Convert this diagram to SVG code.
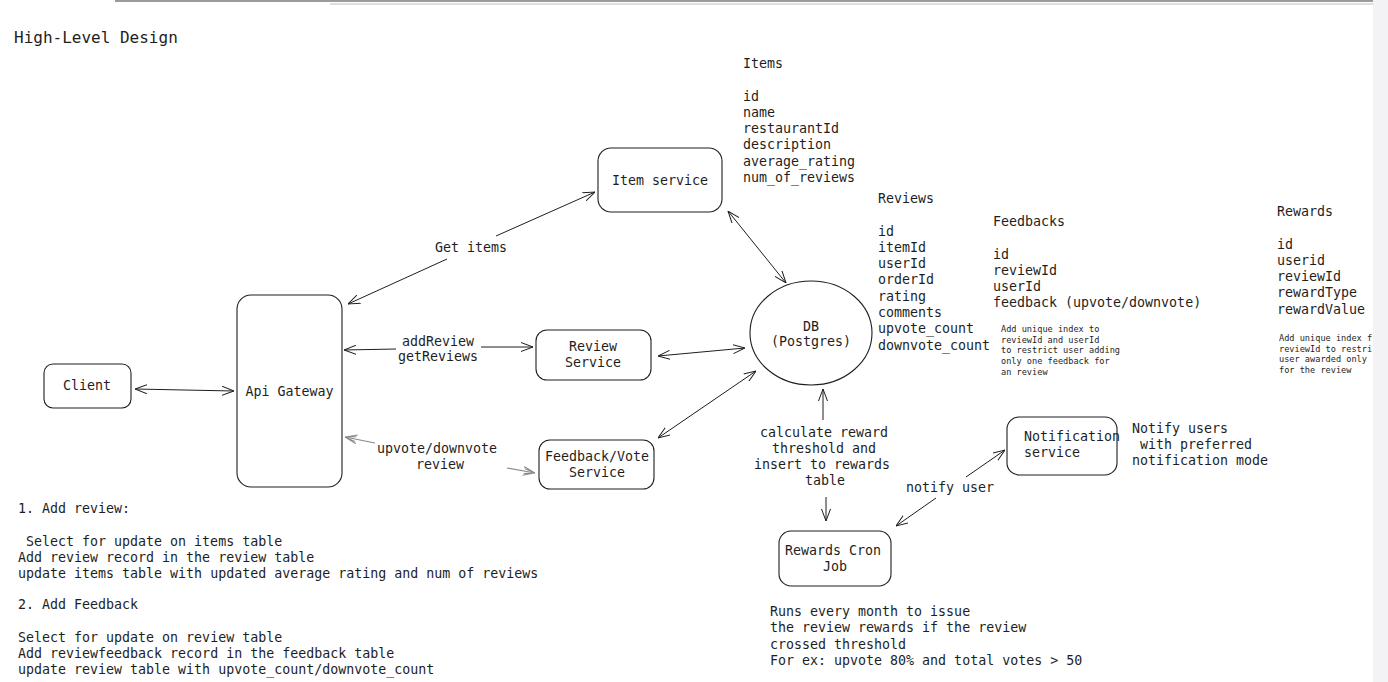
<svg xmlns="http://www.w3.org/2000/svg" width="1388" height="682" viewBox="0 0 1388 682">
<defs>
<style>
text{font-family:"DejaVu Sans Mono","Liberation Mono",monospace;font-size:13.3px;fill:#1e1e1e}
.t{font-size:16px}
.s{font-size:8.6px}
.m{text-anchor:middle}
.box{fill:#fff;stroke:#1e1e1e;stroke-width:1.1}
.c{stroke:#1e1e1e;stroke-width:1;fill:none}
.g{stroke:#8a8a8a;stroke-width:1.2;fill:none}
</style>
<marker id="a" viewBox="0 0 12 10" refX="12" refY="5" markerWidth="12" markerHeight="10" markerUnits="userSpaceOnUse" orient="auto-start-reverse">
<path d="M0,0.5 L12,5 L0,9.5" fill="none" stroke="#1e1e1e" stroke-width="1"/>
</marker>
<marker id="ag" viewBox="0 0 12 10" refX="12" refY="5" markerWidth="12" markerHeight="10" markerUnits="userSpaceOnUse" orient="auto-start-reverse">
<path d="M0,0.5 L12,5 L0,9.5 M1,2.5 L12,5 L1,7.5" fill="none" stroke="#8a8a8a" stroke-width="1"/>
</marker>
</defs>
<rect width="1388" height="682" fill="#fff"/>
<g id="chrome">
<line x1="115" y1="1" x2="1373" y2="1" stroke="#7a7a7a" stroke-width="1.5"/>
<line x1="330" y1="4" x2="1373" y2="4" stroke="#bdbdbd" stroke-width="1.2"/>
<rect x="1373" y="0" width="15" height="682" fill="#f3f3f5"/>
</g>
<text class="t" x="14" y="43">High-Level Design</text>

<g id="connectors">
<line class="c" x1="135" y1="389" x2="234" y2="391" marker-start="url(#a)" marker-end="url(#a)"/>
<line class="c" x1="348" y1="304" x2="447" y2="259" marker-start="url(#a)"/>
<line class="c" x1="496" y1="236" x2="595" y2="192" marker-end="url(#a)"/>
<line class="c" x1="344" y1="350" x2="396" y2="349" marker-start="url(#a)"/>
<line class="c" x1="481" y1="347" x2="533" y2="347" marker-end="url(#a)"/>
<line class="g" x1="345" y1="437" x2="375" y2="443" marker-start="url(#ag)"/>
<line class="g" x1="507" y1="468" x2="535" y2="473" marker-end="url(#ag)"/>
<line class="c" x1="658" y1="356" x2="745" y2="348" marker-start="url(#a)" marker-end="url(#a)"/>
<line class="c" x1="658" y1="438" x2="756" y2="371" marker-start="url(#a)" marker-end="url(#a)"/>
<line class="c" x1="728" y1="211" x2="786" y2="283" marker-start="url(#a)" marker-end="url(#a)"/>
<line class="c" x1="823" y1="420" x2="823" y2="389" marker-end="url(#a)"/>
<line class="c" x1="826" y1="497" x2="826" y2="521" marker-end="url(#a)"/>
<line class="c" x1="936" y1="498" x2="896" y2="526" marker-end="url(#a)"/>
<line class="c" x1="966" y1="477" x2="1005" y2="450" marker-end="url(#a)"/>
</g>

<g id="client">
<rect class="box" x="44" y="364" width="87" height="44" rx="9"/>
<text class="m" x="87" y="389.5">Client</text>
</g>
<g id="api-gateway">
<rect class="box" x="237" y="295" width="105" height="192" rx="14"/>
<text class="m" x="289.5" y="395.5">Api Gateway</text>
</g>
<g id="item-service">
<rect class="box" x="598" y="148" width="124" height="64" rx="13"/>
<text class="m" x="660" y="184.5">Item service</text>
</g>
<g id="review-service">
<rect class="box" x="536" y="330" width="115" height="50" rx="11"/>
<text class="m" x="593" y="350.5">Review</text>
<text class="m" x="593" y="366.5">Service</text>
</g>
<g id="feedback-service">
<rect class="box" x="539" y="440" width="115" height="49" rx="11"/>
<text class="m" x="597" y="460.5">Feedback/Vote</text>
<text class="m" x="597" y="476.5">Service</text>
</g>
<g id="db">
<ellipse class="box" cx="811" cy="333" rx="61" ry="52"/>
<text class="m" x="811" y="330.5">DB</text>
<text class="m" x="811" y="345.5">(Postgres)</text>
</g>
<g id="notification-service">
<rect class="box" x="1007" y="417" width="110" height="58" rx="12"/>
<text x="1024" y="440.5">Notification</text>
<text x="1024" y="456.5">service</text>
</g>
<g id="rewards-cron">
<rect class="box" x="779" y="531" width="112" height="55" rx="12"/>
<text class="m" x="833" y="554.5">Rewards Cron</text>
<text class="m" x="835" y="570.5">Job</text>
</g>

<g id="labels">
<text class="m" x="471" y="251.5">Get items</text>
<text class="m" x="438" y="345.5">addReview</text>
<text class="m" x="438" y="360.5">getReviews</text>
<text class="m" x="437" y="452.5">upvote/downvote</text>
<text class="m" x="440" y="468.5">review</text>
<text class="m" x="824" y="436.5">calculate reward</text>
<text class="m" x="824" y="452.5">threshold and</text>
<text class="m" x="822" y="469">insert to rewards</text>
<text class="m" x="825" y="485">table</text>
<text class="m" x="950" y="492">notify user</text>
</g>

<g id="items-table">
<text x="743" y="67.5">Items</text>
<text x="743" y="100.5">id</text>
<text x="743" y="116.8">name</text>
<text x="743" y="133.1">restaurantId</text>
<text x="743" y="149.4">description</text>
<text x="743" y="165.7">average_rating</text>
<text x="743" y="182">num_of_reviews</text>
</g>
<g id="reviews-table">
<text x="878" y="202.5">Reviews</text>
<text x="878" y="235.5">id</text>
<text x="878" y="251.8">itemId</text>
<text x="878" y="268.1">userId</text>
<text x="878" y="284.4">orderId</text>
<text x="878" y="300.7">rating</text>
<text x="878" y="317">comments</text>
<text x="878" y="333.3">upvote_count</text>
<text x="878" y="349.6">downvote_count</text>
</g>
<g id="feedbacks-table">
<text x="993" y="225.5">Feedbacks</text>
<text x="993" y="258.5">id</text>
<text x="993" y="274.8">reviewId</text>
<text x="993" y="291.1">userId</text>
<text x="993" y="307.4">feedback (upvote/downvote)</text>
<text class="s" x="1001" y="332">Add unique index to</text>
<text class="s" x="1001" y="342.7">reviewId and userId</text>
<text class="s" x="1001" y="353.4">to restrict user adding</text>
<text class="s" x="1001" y="364.1">only one feedback for</text>
<text class="s" x="1001" y="374.8">an review</text>
</g>
<g id="rewards-table">
<text x="1277" y="215.5">Rewards</text>
<text x="1277" y="248.5">id</text>
<text x="1277" y="264.8">userid</text>
<text x="1277" y="281.1">reviewId</text>
<text x="1277" y="297.4">rewardType</text>
<text x="1277" y="313.7">rewardValue</text>
<text class="s" x="1279" y="341">Add unique index f</text>
<text class="s" x="1279" y="351.7">reviewId to restri</text>
<text class="s" x="1279" y="362.4">user awarded only</text>
<text class="s" x="1279" y="373.1">for the review</text>
</g>
<g id="notes">
<text x="1132" y="432.5">Notify users</text>
<text x="1140" y="448.5">with preferred</text>
<text x="1132" y="464.5">notification mode</text>
<text x="770" y="615.5">Runs every month to issue</text>
<text x="770" y="632">the review rewards if the review</text>
<text x="770" y="648.5">crossed threshold</text>
<text x="770" y="664.5">For ex: upvote 80% and total votes &gt; 50</text>
<text x="18" y="512.5">1. Add review:</text>
<text x="26" y="545.5">Select for update on items table</text>
<text x="18" y="561.5">Add review record in the review table</text>
<text x="18" y="577.5">update items table with updated average rating and num of reviews</text>
<text x="18" y="608.5">2. Add Feedback</text>
<text x="18" y="641.5">Select for update on review table</text>
<text x="18" y="657.5">Add reviewfeedback record in the feedback table</text>
<text x="18" y="673.5">update review table with upvote_count/downvote_count</text>
</g>
</svg>
